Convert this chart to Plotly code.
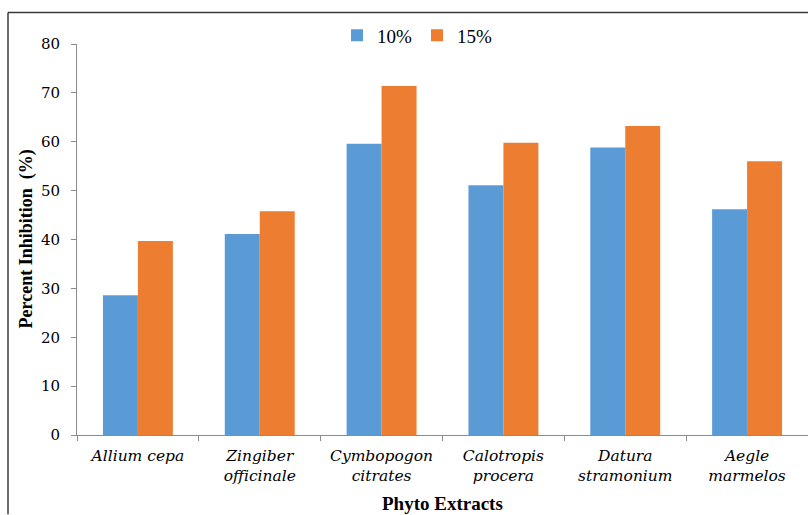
import plotly.graph_objects as go

# Phyto extract names and percent inhibition at two concentrations
extracts = [
    "Allium cepa",
    "Zingiber<br>officinale",
    "Cymbopogon<br>citrates",
    "Calotropis<br>procera",
    "Datura<br>stramonium",
    "Aegle<br>marmelos",
]
inhib_10 = [28.6, 41.1, 59.6, 51.1, 58.8, 46.2]
inhib_15 = [39.7, 45.8, 71.4, 59.8, 63.2, 56.0]
y_ticks = [0, 10, 20, 30, 40, 50, 60, 70, 80]

W, H = 808, 515
ML, MR, MT, MB = 77, 0, 43.5, 79.5
plot_w = W - ML - MR
plot_h = H - MT - MB

def px_x(p):
    return (p - ML) / plot_w

def px_y(p):
    return (H - MB - p) / plot_h

serif = "Liberation Serif"
num_font = "DejaVu Serif"
cat_font = "DejaVu Serif"

fig = go.Figure()
fig.add_trace(go.Bar(
    name="10%", x=extracts, y=inhib_10,
    marker=dict(color="#5B9BD5", line=dict(width=0)),
))
fig.add_trace(go.Bar(
    name="15%", x=extracts, y=inhib_15,
    marker=dict(color="#ED7D31", line=dict(width=0)),
))

fig.update_layout(
    width=W, height=H,
    margin=dict(l=ML, r=MR, t=MT, b=MB, pad=0),
    paper_bgcolor="white", plot_bgcolor="white",
    barmode="group", bargap=0.426, bargroupgap=0,
    font=dict(family=serif, color="#000000"),
    showlegend=True,
    legend=dict(
        orientation="h", x=px_x(417), xanchor="center",
        y=px_y(35), yanchor="middle",
        font=dict(family=serif, size=19, color="#000000"),
        itemwidth=30, bgcolor="rgba(0,0,0,0)",
    ),
    xaxis=dict(
        type="category",
        showline=True, linecolor="#8C8C8C", linewidth=1,
        ticks="outside", ticklen=5, tickcolor="#8C8C8C",
        tickson="boundaries",
        tickfont=dict(family=cat_font, size=15.5, style="italic"),
        ticklabelstandoff=6,
        showgrid=False, zeroline=False,
    ),
    yaxis=dict(
        range=[0, 80], tickvals=y_ticks,
        showline=True, linecolor="#8C8C8C", linewidth=1,
        ticks="outside", ticklen=5, tickcolor="#8C8C8C",
        tickfont=dict(family=num_font, size=15),
        ticklabelstandoff=8,
        showgrid=False, zeroline=False,
    ),
    annotations=[
        dict(
            text="<b>Percent Inhibition &nbsp;(%)</b>",
            xref="paper", yref="paper",
            x=px_x(26), y=px_y(239.5),
            xanchor="center", yanchor="middle",
            textangle=-90, showarrow=False,
            font=dict(family=serif, size=18),
        ),
        dict(
            text="<b>Phyto Extracts</b>",
            xref="paper", yref="paper",
            x=px_x(442), y=px_y(504),
            xanchor="center", yanchor="middle",
            showarrow=False,
            font=dict(family=serif, size=19),
        ),
    ],
    shapes=[
        # outer frame (left and top edges)
        dict(type="line", xref="paper", yref="paper",
             x0=px_x(8), y0=px_y(515), x1=px_x(8), y1=px_y(12),
             line=dict(color="#3A3A3A", width=1.5)),
        dict(type="line", xref="paper", yref="paper",
             x0=px_x(8), y0=px_y(12), x1=px_x(808), y1=px_y(12),
             line=dict(color="#3A3A3A", width=1.5)),
    ],
)

fig.write_html("out.html")
